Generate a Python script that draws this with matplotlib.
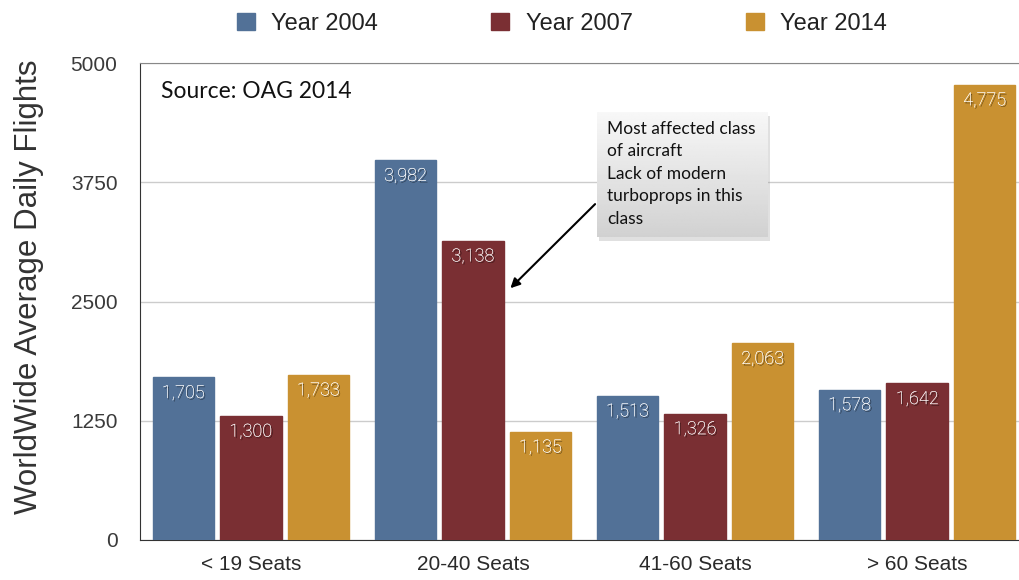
import numpy as np
import matplotlib
matplotlib.use("Agg")
import matplotlib.pyplot as plt
import matplotlib.patheffects as pe
from matplotlib.patches import Rectangle

categories = ["< 19 Seats", "20-40 Seats", "41-60 Seats", "> 60 Seats"]
years = ["Year 2004", "Year 2007", "Year 2014"]
flights_2004 = [1705, 3982, 1513, 1578]
flights_2007 = [1300, 3138, 1326, 1642]
flights_2014 = [1733, 1135, 2063, 4775]
yticks = [0, 1250, 2500, 3750, 5000]

colors = ["#527197", "#7a2f33", "#c99131"]
plt.rcParams["font.family"] = ["Liberation Sans", "DejaVu Sans"]

fig = plt.figure(figsize=(10.2, 5.8), dpi=100)
ax = fig.add_axes([0.137, 0.069, 0.871, 0.822])

x = np.arange(len(categories))
w = 0.277
off = 0.304
series = [flights_2004, flights_2007, flights_2014]
for i, vals in enumerate(series):
    xs = x + (i - 1) * off
    ax.bar(xs, vals, w, color=colors[i], edgecolor=colors[i], label=years[i], zorder=3)
    for xi, v in zip(xs, vals):
        ax.text(xi, v - 70, f"{v:,}", ha="center", va="top", color="white",
                fontsize=13, family=["Roboto", "DejaVu Sans"], fontweight="light", zorder=5,
                path_effects=[pe.withSimplePatchShadow(offset=(1, -1), shadow_rgbFace="black", alpha=0.6), pe.Normal()])

ax.set_ylim(0, 5000)
ax.set_yticks(yticks)
ax.set_yticklabels([str(t) for t in yticks], fontsize=15, color="#3a3a3a")
ax.set_xticks(x)
ax.set_xticklabels(categories, fontsize=15, color="#2a2a2a")
ax.tick_params(length=0)
ax.tick_params(axis="x", pad=11)
ax.tick_params(axis="y", pad=16)
ax.yaxis.grid(True, color="#cccccc", lw=1, zorder=0)
ax.set_axisbelow(True)
for s in ["left", "bottom"]:
    ax.spines[s].set_color("#333333")
ax.spines["top"].set_color("#888888")
ax.spines["right"].set_visible(False)
ax.set_ylabel("WorldWide Average Daily Flights", fontsize=22.5, color="#333333")
ax.yaxis.set_label_coords(-0.108, 0.532)

ax.text(0.024, 0.962, "Source: OAG 2014", transform=ax.transAxes, fontsize=16.5,
        family=["Lato", "DejaVu Sans"], va="top", ha="left", color="#111111")

# annotation box with gradient
bx0, bx1, by0, by1 = 1.559, 2.328, 3176, 4486
ax.add_patch(Rectangle((bx0 + 0.008, by0 - 40), bx1 - bx0, by1 - by0,
                       facecolor="#999999", alpha=0.3, edgecolor="none", zorder=6))
grad = np.linspace(0.97, 0.82, 100).reshape(-1, 1)
ax.imshow(grad, extent=[bx0, bx1, by0, by1], cmap="gray", vmin=0, vmax=1,
          aspect="auto", origin="upper", zorder=7)
ax.set_xlim(-0.5, 3.5)
ax.set_ylim(0, 5000)
ax.text(bx0 + 0.045, by1 - 90,
        "Most affected class\nof aircraft\nLack of modern\nturboprops in this\nclass",
        family=["Lato", "DejaVu Sans"], fontsize=12.5, va="top", ha="left",
        linespacing=1.5, color="#111111", zorder=8)
ax.annotate("", xy=(1.16, 2620), xytext=(bx0, 3543),
            arrowprops=dict(arrowstyle="-|>", color="black", lw=1.5, mutation_scale=14),
            zorder=8)

fig.legend(loc="upper center", bbox_to_anchor=(0.551, 1.015), ncol=3, frameon=False,
           handlelength=0.75, handleheight=0.75, columnspacing=4.8,
           handletextpad=0.7, prop={"size": 17}, labelcolor="#222222")

fig.savefig("out.png", dpi=100)
